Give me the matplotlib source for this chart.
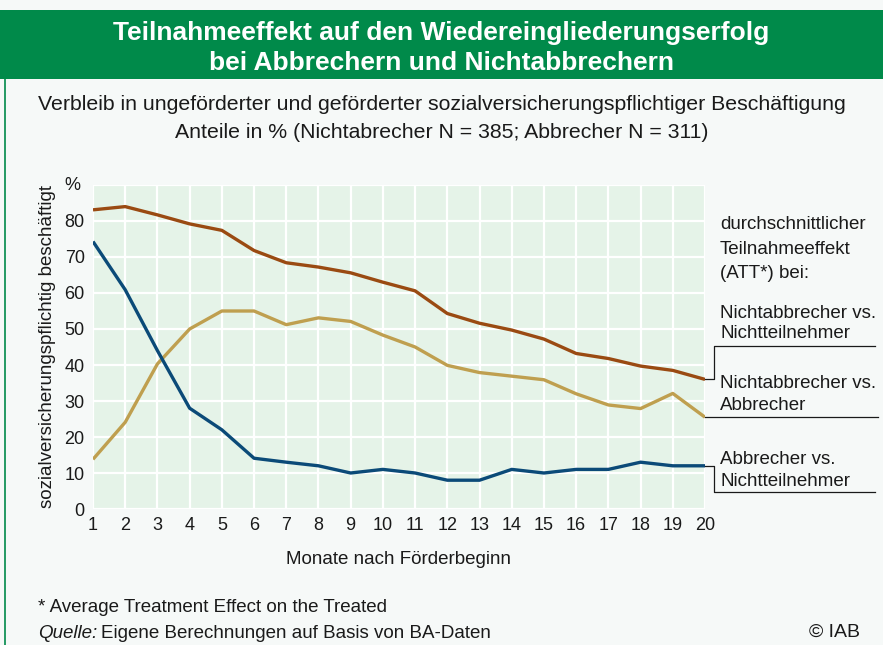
import matplotlib.pyplot as plt
from matplotlib.patches import Rectangle
from matplotlib.lines import Line2D

plt.rcParams['font.family'] = ['Liberation Sans', 'DejaVu Sans']

# Daten
monate = list(range(1, 21))
nichtabbr_vs_nichtteiln = [83.1, 84.0, 81.7, 79.2, 77.4, 71.8, 68.4, 67.2, 65.6, 63.0,
                           60.6, 54.3, 51.6, 49.7, 47.2, 43.2, 41.8, 39.7, 38.5, 36.0]
nichtabbr_vs_abbr = [13.8, 24.1, 40.3, 50.0, 55.0, 55.0, 51.2, 53.1, 52.1, 48.3,
                     45.0, 39.9, 37.9, 36.9, 35.9, 32.0, 28.9, 27.9, 32.1, 25.5]
abbr_vs_nichtteiln = [74.3, 60.9, 44.0, 28.0, 22.0, 14.1, 13.0, 12.0, 10.0, 11.0,
                      10.0, 8.0, 8.0, 11.0, 10.0, 11.0, 11.0, 13.0, 12.0, 12.0]
y_ticks = [0, 10, 20, 30, 40, 50, 60, 70, 80]

c_braun = '#9a4a12'
c_gold = '#bf9f4f'
c_blau = '#0b4a78'
c_gruen = '#008a4a'
c_text = '#1a1a1a'

fig = plt.figure(figsize=(8.83, 6.45), dpi=100)
fig.patch.set_facecolor('#f6f9f8')

# Kopfzeile
fig.patches.append(Rectangle((0, 1 - 79/645), 1, 69/645, transform=fig.transFigure,
                             facecolor=c_gruen, edgecolor='none', zorder=0))
fig.add_artist(Line2D([5/883, 5/883], [0, 1 - 79/645], transform=fig.transFigure,
                      color=c_gruen, lw=1.2))
fig.text(0.5, 1 - 33/645, 'Teilnahmeeffekt auf den Wiedereingliederungserfolg',
         ha='center', va='center', color='white', fontsize=19, fontweight='bold')
fig.text(0.5, 1 - 63/645, 'bei Abbrechern und Nichtabbrechern',
         ha='center', va='center', color='white', fontsize=19, fontweight='bold')

fig.text(0.5, 1 - 105/645,
         'Verbleib in ungeförderter und geförderter sozialversicherungspflichtiger Beschäftigung',
         ha='center', va='center', fontsize=15.3, color=c_text)
fig.text(0.5, 1 - 132/645, 'Anteile in % (Nichtabrecher N = 385; Abbrecher N = 311)',
         ha='center', va='center', fontsize=15.3, color=c_text)

ax = fig.add_axes([93/883, 1 - 509/645, 612/883, 324/645])
ax.set_facecolor('#e5f3e8')
for s in ax.spines.values():
    s.set_visible(False)
ax.set_xlim(1, 20)
ax.set_ylim(0, 90)
ax.set_xticks(monate)
ax.set_yticks(y_ticks + [90])
ax.set_yticklabels([str(v) for v in y_ticks] + [''])
ax.grid(True, color='white', lw=1.6)
ax.set_axisbelow(True)
ax.tick_params(length=0, labelsize=13, colors=c_text, pad=6)

ax.plot(monate, nichtabbr_vs_nichtteiln, color=c_braun, lw=2.4, solid_capstyle='butt')
ax.plot(monate, nichtabbr_vs_abbr, color=c_gold, lw=2.4, solid_capstyle='butt')
ax.plot(monate, abbr_vs_nichtteiln, color=c_blau, lw=2.4, solid_capstyle='butt')

ax.set_ylabel('sozialversicherungspflichtig beschäftigt', fontsize=13.5, labelpad=6, color=c_text)
ax.set_xlabel('Monate nach Förderbeginn', fontsize=13.5, labelpad=12, color=c_text)
fig.text(72/883, 1 - 185/645, '%', ha='center', va='center', fontsize=13, color=c_text)

# Legende rechts mit Verbindungslinien
xb = 20.28
xe = 25.28
kw = dict(color=c_text, lw=0.9, clip_on=False)
ax.plot([20, xb, xb, xe], [nichtabbr_vs_nichtteiln[-1], nichtabbr_vs_nichtteiln[-1], 45.2, 45.2], **kw)
ax.plot([20, xe + 0.1], [nichtabbr_vs_abbr[-1], nichtabbr_vs_abbr[-1]], **kw)
ax.plot([20, xb, xb, xe], [abbr_vs_nichtteiln[-1], abbr_vs_nichtteiln[-1], 4.7, 4.7], **kw)

tx = 720/883
for y, t in [(225, 'durchschnittlicher'), (250, 'Teilnahmeeffekt'), (274, '(ATT*) bei:'),
             (313, 'Nichtabbrecher vs.'), (334, 'Nichtteilnehmer'),
             (383, 'Nichtabbrecher vs.'), (405, 'Abbrecher'),
             (459, 'Abbrecher vs.'), (481, 'Nichtteilnehmer')]:
    fig.text(tx, 1 - y/645, t, ha='left', va='center', fontsize=13.5, color=c_text)

# Fußzeile
fig.text(38/883, 1 - 608/645, '* Average Treatment Effect on the Treated',
         ha='left', va='center', fontsize=13.5, color=c_text)
q = fig.text(38/883, 1 - 633/645, 'Quelle:', ha='left', va='center', fontsize=13.5,
             style='italic', color=c_text)
fig.canvas.draw()
bb = q.get_window_extent()
fig.text((bb.x1 + 4) / 883, 1 - 633/645, 'Eigene Berechnungen auf Basis von BA-Daten',
         ha='left', va='center', fontsize=13.5, color=c_text)
fig.text(860/883, 1 - 632/645, '© IAB', ha='right', va='center', fontsize=14, color=c_text)

fig.savefig('out.png', dpi=100, facecolor=fig.get_facecolor())
